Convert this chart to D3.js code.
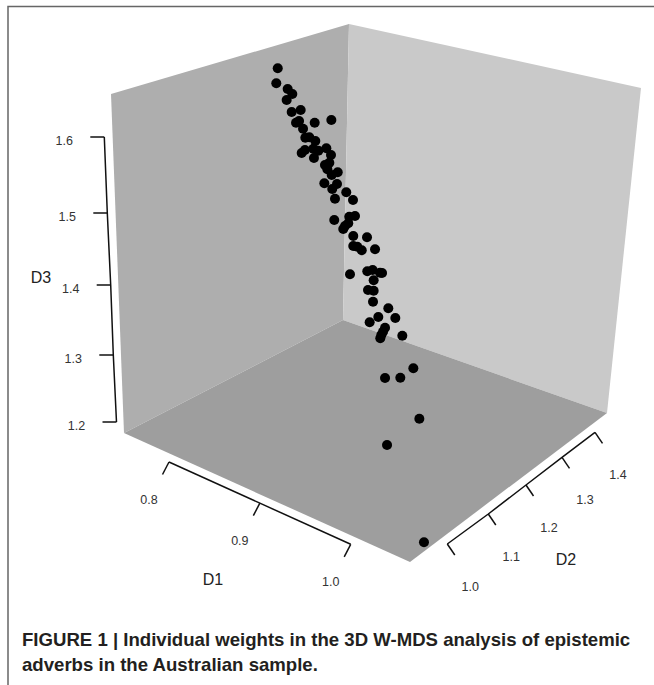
<!DOCTYPE html>
<meta charset="utf-8">
<style>
  body { margin: 0; background: #fff; }
  svg { display: block; font-family: "Liberation Sans", Arial, sans-serif; }
</style>
<script src="https://d3js.org/d3.v7.min.js"></script>
<div id="chart"></div>
<script>

// axis ticks
var d1Ticks = [0.8, 0.9, 1.0];
var d2Ticks = [1.0, 1.1, 1.2, 1.3, 1.4];
var d3Ticks = [1.2, 1.3, 1.4, 1.5, 1.6];

// individual weights, read off the picture plane: the depth (D2) of a point
// can't be recovered from a 2D view, so they are apparent D1 / D3 values
var pointsD1 = [
  0.9206, 0.9190, 0.9315, 0.9366, 0.9304, 0.9359, 0.9458, 0.9407, 0.9440, 0.9612,
  0.9795, 0.9484, 0.9509, 0.9553, 0.9619, 0.9469, 0.9505, 0.9597, 0.9652, 0.9740,
  0.9604, 0.9791, 0.9725, 0.9773, 0.9751, 0.9799, 0.9865, 0.9718, 0.9857, 0.9805,
  0.9959, 0.9835, 1.0033, 0.9827, 1.0055, 0.9992, 0.9981, 0.9945, 0.9926, 1.0036,
  1.0187, 1.0036, 1.0080, 1.0129, 1.0275, 1.0000, 1.0190, 1.0249, 1.0330, 1.0352,
  1.0260, 1.0198, 1.0260, 1.0253, 1.0421, 1.0311, 1.0498, 1.0216, 1.0385, 1.0363,
  1.0344, 1.0333, 1.0575, 1.0696, 1.0385, 1.0553, 1.0762, 1.0407, 1.0813
];
var pointsD3 = [
  1.6957, 1.6748, 1.6669, 1.6599, 1.6516, 1.6348, 1.6376, 1.6199, 1.6223, 1.6199,
  1.6237, 1.6116, 1.5990, 1.5996, 1.5944, 1.5777, 1.5819, 1.5837, 1.5809, 1.5842,
  1.5707, 1.5749, 1.5610, 1.5642, 1.5550, 1.5470, 1.5508, 1.5355, 1.5345, 1.5275,
  1.5229, 1.5140, 1.5122, 1.4843, 1.4899, 1.4889, 1.4797, 1.4760, 1.4718, 1.4620,
  1.4602, 1.4481, 1.4471, 1.4421, 1.4435, 1.4086, 1.4128, 1.4146, 1.4109, 1.4104,
  1.4003, 1.3868, 1.3858, 1.3705, 1.3613, 1.3491, 1.3477, 1.3417, 1.3342, 1.3286,
  1.3240, 1.3194, 1.3231, 1.2776, 1.2641, 1.2645, 1.2074, 1.1707, 1.0351
];

var width = 654, height = 685;

var svg = d3.select("#chart").append("svg")
  .attr("width", width)
  .attr("height", height);

// frame of the figure
svg.append("path")
  .attr("d", "M8,685V6.5H654")
  .attr("fill", "none")
  .attr("stroke", "#666")
  .attr("stroke-width", 1.5);

// box corners
var leftTop = [111, 94], backTop = [349, 24], rightTop = [641, 88],
    leftBottom = [124, 433], backBottom = [343, 320], rightBottom = [607, 413],
    frontBottom = [410, 562];

var walls = [
  {corners: [leftTop, backTop, backBottom, leftBottom], fill: "#aeaeae"},
  {corners: [backTop, rightTop, rightBottom, backBottom], fill: "#c9c9c9"},
  {corners: [leftBottom, backBottom, rightBottom, frontBottom], fill: "#9e9e9e"}
];

svg.selectAll(".wall")
  .data(walls)
  .enter()
  .append("polygon")
    .attr("class", "wall")
    .attr("points", function(d) { return d.corners.join(" "); })
    .attr("fill", function(d) { return d.fill; });

// the axes run along the box, ticks get closer with distance
var d3AxisX = d3.scaleLinear().domain(d3Ticks).range([116.5, 113.3, 110.7, 107.3, 104.3]);
var d3AxisY = d3.scaleLinear().domain(d3Ticks).range([422, 355, 285, 213, 137]);
var d1AxisX = d3.scaleLinear().domain([0.8, 1.0]).range([169, 350.7]);
var d1AxisY = d3.scaleLinear().domain([0.8, 1.0]).range([462, 544.3]);
var d2AxisX = d3.scaleLinear().domain(d2Ticks).range([447.3, 488.3, 526, 562, 595]);
var d2AxisY = d3.scaleLinear().domain(d2Ticks).range([544, 514, 485, 457.3, 432.3]);

function drawAxis(ticks, xScale, yScale, tickDx, tickDy, labelDx, labelDy) {
  var g = svg.append("g");

  g.append("path")
    .datum(ticks)
    .attr("fill", "none")
    .attr("stroke", "#111")
    .attr("stroke-width", 1.5)
    .attr("d", d3.line()
      .x(function(d) { return xScale(d); })
      .y(function(d) { return yScale(d); }));

  g.selectAll("line")
    .data(ticks)
    .enter()
    .append("line")
      .attr("x1", function(d) { return xScale(d); })
      .attr("y1", function(d) { return yScale(d); })
      .attr("x2", function(d) { return xScale(d) + tickDx; })
      .attr("y2", function(d) { return yScale(d) + tickDy; })
      .attr("stroke", "#111")
      .attr("stroke-width", 1.5);

  g.selectAll("text")
    .data(ticks)
    .enter()
    .append("text")
      .attr("x", function(d) { return xScale(d) + labelDx; })
      .attr("y", function(d) { return yScale(d) + labelDy; })
      .attr("text-anchor", "middle")
      .attr("font-size", 12.5)
      .attr("fill", "#333")
      .text(function(d) { return d.toFixed(1); });
}

drawAxis(d3Ticks, d3AxisX, d3AxisY, -14, 0, -40, 7.5);
drawAxis(d1Ticks, d1AxisX, d1AxisY, -6.5, 12.5, -20, 41.5);
drawAxis(d2Ticks, d2AxisX, d2AxisY, 7.5, 11, 23, 46.5);

// axis titles
var titles = [
  {label: "D1", x: 213, y: 585},
  {label: "D2", x: 566, y: 565},
  {label: "D3", x: 41, y: 283}
];

svg.selectAll(".title")
  .data(titles)
  .enter()
  .append("text")
    .attr("class", "title")
    .attr("x", function(d) { return d.x; })
    .attr("y", function(d) { return d.y; })
    .attr("text-anchor", "middle")
    .attr("font-size", 16)
    .attr("fill", "#222")
    .text(function(d) { return d.label; });

// points
var x = d3.scaleLinear().domain([0.8, 1.0]).range([168, 350]);
var y = d3.scaleLinear().domain([1.2, 1.6]).range([424, 137]);

svg.append("g")
  .selectAll("circle")
  .data(pointsD1)
  .enter()
  .append("circle")
    .attr("cx", function(d) { return x(d); })
    .attr("cy", function(d, i) { return y(pointsD3[i]); })
    .attr("r", 5)
    .attr("fill", "#000");

// caption
var caption = svg.append("text")
  .attr("font-size", 18.6)
  .attr("font-weight", "bold")
  .attr("fill", "#231f20");
caption.append("tspan").attr("x", 22).attr("y", 645.5)
  .text("FIGURE 1 | Individual weights in the 3D W-MDS analysis of epistemic");
caption.append("tspan").attr("x", 22).attr("y", 671)
  .text("adverbs in the Australian sample.");

</script>
